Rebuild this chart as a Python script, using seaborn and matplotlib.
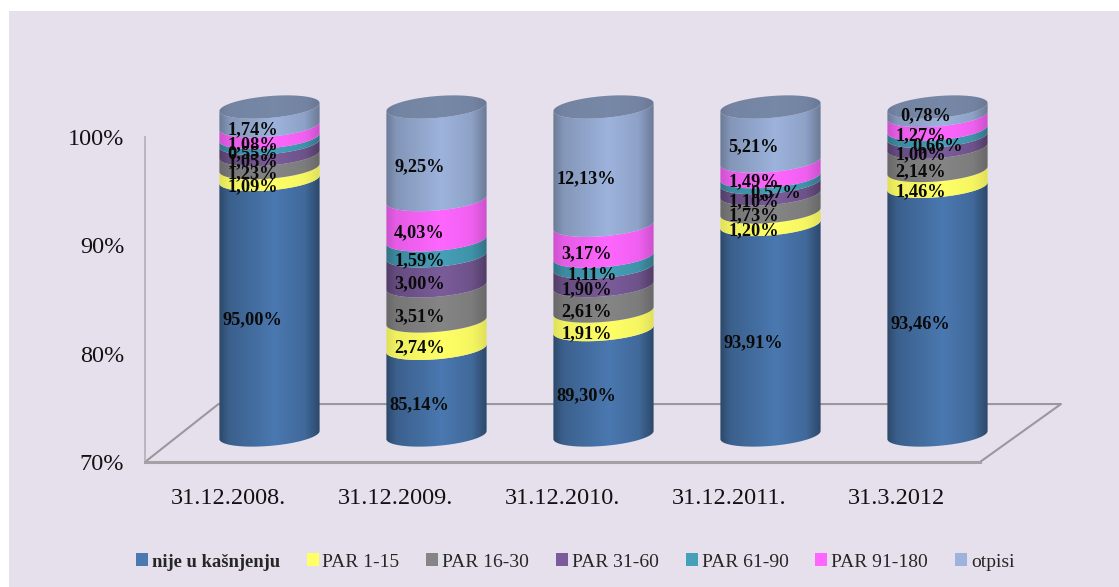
import numpy as np
import pandas as pd
import matplotlib
matplotlib.use("Agg")
import matplotlib.pyplot as plt
from matplotlib.colors import to_rgb
from matplotlib.patches import PathPatch, Rectangle
from matplotlib.path import Path
import seaborn as sns

# Data (labels show raw values, columns are drawn as 100% stacks)
dates = ["31.12.2008.", "31.12.2009.", "31.12.2010.", "31.12.2011.", "31.3.2012"]
series = ["nije u kašnjenju", "PAR 1-15", "PAR 16-30", "PAR 31-60", "PAR 61-90", "PAR 91-180", "otpisi"]
nije = [95.00, 85.14, 89.30, 93.91, 93.46]
par_1_15 = [1.09, 2.74, 1.91, 1.20, 1.46]
par_16_30 = [1.23, 3.51, 2.61, 1.73, 2.14]
par_31_60 = [1.05, 3.00, 1.90, 1.10, 1.00]
par_61_90 = [0.55, 1.59, 1.11, 0.57, 0.66]
par_91_180 = [1.08, 4.03, 3.17, 1.49, 1.27]
otpisi = [1.74, 9.25, 12.13, 5.21, 0.78]
colors = ["#4A78B0", "#FFFF66", "#858585", "#7A5C9A", "#45A0B8", "#FF66FF", "#9DB3DC"]
edge_dark = [1.0, 0.3, 0.55, 0.85, 0.7, 0.5, 0.8]

W, H = 1119, 587
BG = "#E5E0EC"
FONT = "Liberation Serif"

sns.set_theme(style="white")
plt.rcParams["font.family"] = [FONT, "DejaVu Sans"]

data = pd.DataFrame(
    [nije, par_1_15, par_16_30, par_31_60, par_61_90, par_91_180, otpisi],
    index=series, columns=dates,
)
shares = data / data.sum() * 100
tops = shares.cumsum()


def ax_box(left, right, top, bottom):
    return [left / W, 1 - bottom / H, (right - left) / W, (bottom - top) / H]


fig = plt.figure(figsize=(W / 100, H / 100), dpi=100, facecolor="white")
fig.patches.append(Rectangle((9 / W, 0), 1, 1 - 11 / H, transform=fig.transFigure,
                             facecolor=BG, edgecolor="none", zorder=-5))

# Front plane: axis, floor and tick labels
frame = fig.add_axes(ax_box(145, 980, 137, 462), facecolor="none")
frame.set_xlim(-0.5, 4.5)
frame.set_ylim(70, 100)
frame.set_xticks(range(5), dates)
frame.set_yticks([70, 80, 90, 100], ["70%", "80%", "90%", "100%"])
frame.tick_params(axis="y", length=0, pad=15, labelsize=17.5, labelcolor="#111111")
frame.tick_params(axis="x", length=0, pad=19, labelsize=17.5, labelcolor="#111111")
for side in ["top", "right"]:
    frame.spines[side].set_visible(False)
frame.spines["left"].set_color("#B8B6BC")
frame.spines["left"].set_linewidth(1.4)
frame.spines["bottom"].set_color("#A3A1A6")
frame.spines["bottom"].set_linewidth(2.2)
frame.plot([-0.5, -0.06, 4.985, 4.5], [70, 75.35, 75.35, 70], color="#9A989C", lw=1.5, clip_on=False)

# Columns sit behind the front plane, on their own axes
ax = fig.add_axes(ax_box(186, 1021, 107 - 3 * 10.93, 435 + 3 * 10.93), facecolor="none")
for name in series:
    sns.barplot(x=dates, y=tops.loc[name].values, order=dates, width=0.6, ax=ax, saturation=1, color="white")
ax.set_xlim(-0.5, 4.5)
ax.set_ylim(67, 103)
ax.axis("off")

TILT = 0.37
CURVE = 1.0
shade_pos = [0, 0.1, 0.55, 0.85, 1]
side_shade = np.array([0.6, 0.8, 1.0, 0.88, 0.6])
cap_shade = np.array([0.9, 0.97, 1.0, 0.97, 0.88])


def edge(cx, hw, level, start, stop):
    t = np.linspace(start, stop, 60)
    return np.column_stack([cx + hw * np.cos(t), level + TILT * np.cos(t) + CURVE * np.sin(t)])


def fill_shaded(verts, x0, x1, low, high, color, shade, dim=1.0):
    patch = PathPatch(Path(np.vstack([verts, verts[:1]])), facecolor="none", edgecolor="none")
    ax.add_patch(patch)
    fr = np.linspace(0, 1, 200)
    rgb = np.outer(np.interp(fr, shade_pos, shade) * dim, to_rgb(color))[None, :, :]
    img = ax.imshow(rgb, extent=(x0, x1, low, high), aspect="auto", zorder=2)
    img.set_clip_path(patch)


for i, name in enumerate(series):
    shade = 1 - (1 - side_shade) * edge_dark[i]
    for j, bar in enumerate(ax.containers[i]):
        bar.set_visible(False)
        x0, hw = bar.get_x(), bar.get_width() / 2
        cx = x0 + hw
        top = bar.get_height()
        low = 70 if i == 0 else ax.containers[i - 1][j].get_height()
        verts = np.vstack([edge(cx, hw, low, np.pi, 2 * np.pi), edge(cx, hw, top, 2 * np.pi, np.pi)])
        fill_shaded(verts, x0, x0 + 2 * hw, low - 2, top + 2, colors[i], shade)
        if i == len(series) - 1:
            cap = edge(cx, hw, top, 0, 2 * np.pi)
            fill_shaded(cap, x0, x0 + 2 * hw, top - 2, top + 2, colors[i], cap_shade, dim=0.76)

# Data labels, a few are moved by hand in the original
label_shift = {(3, 4): (22, 0), (4, 4): (17, 0), (4, 6): (5, 9), (2, 4): (6, 0)}
for i, name in enumerate(series):
    for j, date in enumerate(dates):
        low = 70 if i == 0 else tops.iloc[i - 1, j]
        mid = (low + tops.loc[name, date]) / 2
        dx, dy = label_shift.get((j, i), (0, 0))
        ax.annotate(f"{data.loc[name, date]:.2f}%".replace(".", ","), (j, mid),
                    xytext=((dx - 17) * 0.72, (dy - 13) * 0.72), textcoords="offset points",
                    ha="center", va="center", fontsize=13.2, fontweight="bold",
                    color="#0A0A0A", zorder=5, annotation_clip=False)

# Legend
handles = [Rectangle((0, 0), 1, 1, facecolor=c, edgecolor="none") for c in colors]
leg = frame.legend(handles, series, ncol=7, frameon=False, loc="center",
                   bbox_to_anchor=(575 / W, 1 - 562 / H), bbox_transform=fig.transFigure,
                   fontsize=14, handlelength=0.62, handleheight=0.62, handletextpad=0.2,
                   columnspacing=1.38, borderpad=0, borderaxespad=0)
leg.get_texts()[0].set_fontweight("bold")
leg.get_texts()[0].set_fontsize(13.4)

fig.savefig("out.png", dpi=100)
